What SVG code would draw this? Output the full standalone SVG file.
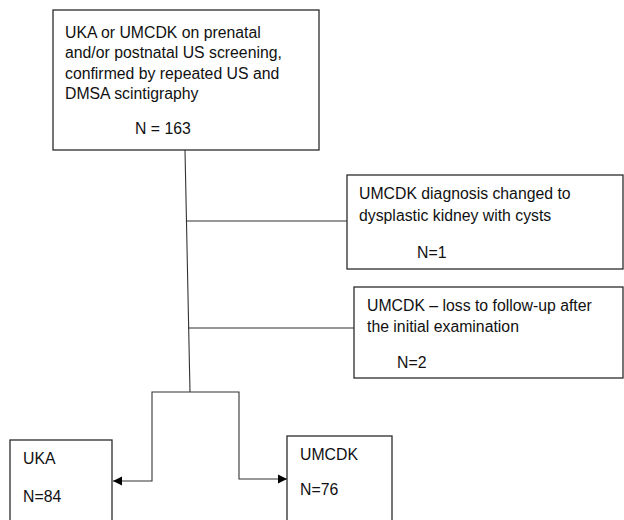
<svg xmlns="http://www.w3.org/2000/svg" width="624" height="520" viewBox="0 0 624 520">
<style>
.box{fill:#fff;stroke:#2b2b2b;stroke-width:1.3}
.t{font-family:"Liberation Sans",Arial,sans-serif;font-size:15.8px;fill:#111}
.ln{fill:none;stroke:#333;stroke-width:1.1}
</style>
<defs>
<marker id="ah" viewBox="0 0 10 10" refX="10" refY="5" markerWidth="9" markerHeight="10" markerUnits="userSpaceOnUse" orient="auto">
<path d="M0,0 L10,5 L0,10 Z" fill="#000"/>
</marker>
</defs>
<g id="connectors">
<line class="ln" x1="185" y1="150" x2="190" y2="392"/>
<line class="ln" x1="186" y1="221" x2="347" y2="221"/>
<line class="ln" x1="188" y1="328" x2="354" y2="328"/>
<polyline class="ln" points="190,392 152,392 152,481 113,481" marker-end="url(#ah)"/>
<polyline class="ln" points="190,392 239,392 239,479 287,479" marker-end="url(#ah)"/>
</g>
<g id="n0">
<rect class="box" x="53" y="10" width="266" height="140"/>
<text class="t" x="65" y="38">UKA or UMCDK on prenatal</text>
<text class="t" x="65" y="58">and/or postnatal US screening,</text>
<text class="t" x="65" y="79">confirmed by repeated US and</text>
<text class="t" x="65" y="99">DMSA scintigraphy</text>
<text class="t" x="135" y="134">N = 163</text>
</g>
<g id="n1">
<rect class="box" x="347" y="175" width="276" height="94"/>
<text class="t" x="359" y="199">UMCDK diagnosis changed to</text>
<text class="t" x="359" y="221">dysplastic kidney with cysts</text>
<text class="t" x="417" y="258">N=1</text>
</g>
<g id="n2">
<rect class="box" x="354" y="287" width="269" height="91"/>
<text class="t" x="367" y="311">UMCDK – loss to follow-up after</text>
<text class="t" x="367" y="332">the initial examination</text>
<text class="t" x="397" y="368">N=2</text>
</g>
<g id="n3">
<rect class="box" x="10" y="440" width="102" height="90"/>
<text class="t" x="23" y="464">UKA</text>
<text class="t" x="23" y="502">N=84</text>
</g>
<g id="n4">
<rect class="box" x="287" y="436" width="105" height="94"/>
<text class="t" x="300" y="460">UMCDK</text>
<text class="t" x="300" y="495">N=76</text>
</g>
</svg>
